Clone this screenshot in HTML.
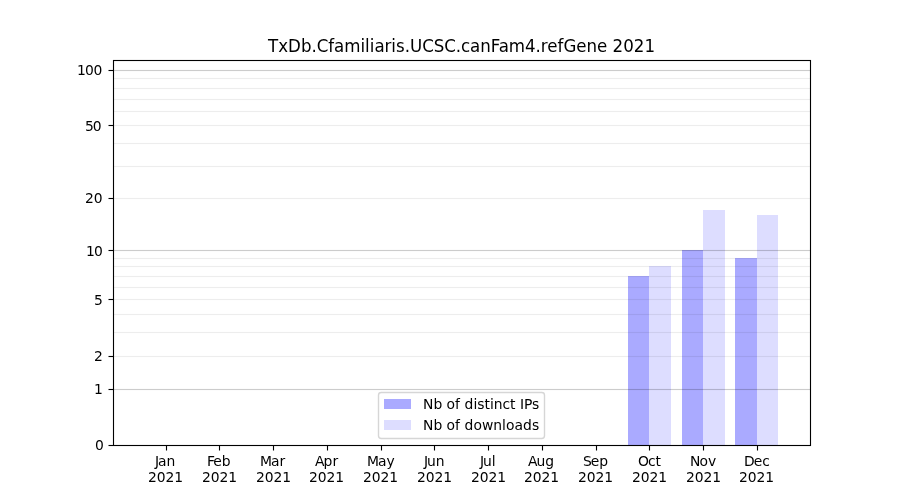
<!DOCTYPE html>
<html lang="en">
<head>
<meta charset="utf-8">
<title>TxDb.Cfamiliaris.UCSC.canFam4.refGene 2021</title>
<style>
html,body{margin:0;padding:0;background:#fff;overflow:hidden}
svg{display:block}
text{font-family:"DejaVu Sans", "Liberation Sans", sans-serif;fill:#000;white-space:pre}
.t10{font-size:13.889px}
.t12{font-size:16.667px}
</style>
</head>
<body>
<svg width="900" height="500" viewBox="0 0 900 500">
<rect x="0" y="0" width="900" height="500" fill="#fff"/>
<g shape-rendering="crispEdges">
<rect x="628" y="276" width="21" height="169" fill="#00f" fill-opacity="0.3333"/>
<rect x="649" y="266" width="22" height="179" fill="#00f" fill-opacity="0.1333"/>
<rect x="682" y="250" width="21" height="195" fill="#00f" fill-opacity="0.3333"/>
<rect x="703" y="210" width="22" height="235" fill="#00f" fill-opacity="0.1333"/>
<rect x="735" y="258" width="22" height="187" fill="#00f" fill-opacity="0.3333"/>
<rect x="757" y="215" width="21" height="230" fill="#00f" fill-opacity="0.1333"/>
</g>
<g fill="#000">
<rect x="114" y="389" width="696" height="1" fill-opacity="0.2000"/><rect x="114" y="388" width="696" height="1" fill-opacity="0.0111"/><rect x="114" y="390" width="696" height="1" fill-opacity="0.0111"/>
<rect x="114" y="356" width="696" height="1" fill-opacity="0.0700"/><rect x="114" y="355" width="696" height="1" fill-opacity="0.0039"/><rect x="114" y="357" width="696" height="1" fill-opacity="0.0039"/>
<rect x="114" y="332" width="696" height="1" fill-opacity="0.0700"/><rect x="114" y="331" width="696" height="1" fill-opacity="0.0039"/><rect x="114" y="333" width="696" height="1" fill-opacity="0.0039"/>
<rect x="114" y="314" width="696" height="1" fill-opacity="0.0700"/><rect x="114" y="313" width="696" height="1" fill-opacity="0.0039"/><rect x="114" y="315" width="696" height="1" fill-opacity="0.0039"/>
<rect x="114" y="299" width="696" height="1" fill-opacity="0.0700"/><rect x="114" y="298" width="696" height="1" fill-opacity="0.0039"/><rect x="114" y="300" width="696" height="1" fill-opacity="0.0039"/>
<rect x="114" y="287" width="696" height="1" fill-opacity="0.0700"/><rect x="114" y="286" width="696" height="1" fill-opacity="0.0039"/><rect x="114" y="288" width="696" height="1" fill-opacity="0.0039"/>
<rect x="114" y="276" width="696" height="1" fill-opacity="0.0700"/><rect x="114" y="275" width="696" height="1" fill-opacity="0.0039"/><rect x="114" y="277" width="696" height="1" fill-opacity="0.0039"/>
<rect x="114" y="266" width="696" height="1" fill-opacity="0.0700"/><rect x="114" y="265" width="696" height="1" fill-opacity="0.0039"/><rect x="114" y="267" width="696" height="1" fill-opacity="0.0039"/>
<rect x="114" y="258" width="696" height="1" fill-opacity="0.0700"/><rect x="114" y="257" width="696" height="1" fill-opacity="0.0039"/><rect x="114" y="259" width="696" height="1" fill-opacity="0.0039"/>
<rect x="114" y="250" width="696" height="1" fill-opacity="0.2000"/><rect x="114" y="249" width="696" height="1" fill-opacity="0.0111"/><rect x="114" y="251" width="696" height="1" fill-opacity="0.0111"/>
<rect x="114" y="198" width="696" height="1" fill-opacity="0.0700"/><rect x="114" y="197" width="696" height="1" fill-opacity="0.0039"/><rect x="114" y="199" width="696" height="1" fill-opacity="0.0039"/>
<rect x="114" y="166" width="696" height="1" fill-opacity="0.0700"/><rect x="114" y="165" width="696" height="1" fill-opacity="0.0039"/><rect x="114" y="167" width="696" height="1" fill-opacity="0.0039"/>
<rect x="114" y="143" width="696" height="1" fill-opacity="0.0700"/><rect x="114" y="142" width="696" height="1" fill-opacity="0.0039"/><rect x="114" y="144" width="696" height="1" fill-opacity="0.0039"/>
<rect x="114" y="125" width="696" height="1" fill-opacity="0.0700"/><rect x="114" y="124" width="696" height="1" fill-opacity="0.0039"/><rect x="114" y="126" width="696" height="1" fill-opacity="0.0039"/>
<rect x="114" y="111" width="696" height="1" fill-opacity="0.0700"/><rect x="114" y="110" width="696" height="1" fill-opacity="0.0039"/><rect x="114" y="112" width="696" height="1" fill-opacity="0.0039"/>
<rect x="114" y="99" width="696" height="1" fill-opacity="0.0700"/><rect x="114" y="98" width="696" height="1" fill-opacity="0.0039"/><rect x="114" y="100" width="696" height="1" fill-opacity="0.0039"/>
<rect x="114" y="88" width="696" height="1" fill-opacity="0.0700"/><rect x="114" y="87" width="696" height="1" fill-opacity="0.0039"/><rect x="114" y="89" width="696" height="1" fill-opacity="0.0039"/>
<rect x="114" y="78" width="696" height="1" fill-opacity="0.0700"/><rect x="114" y="77" width="696" height="1" fill-opacity="0.0039"/><rect x="114" y="79" width="696" height="1" fill-opacity="0.0039"/>
<rect x="114" y="70" width="696" height="1" fill-opacity="0.2000"/><rect x="114" y="69" width="696" height="1" fill-opacity="0.0111"/><rect x="114" y="71" width="696" height="1" fill-opacity="0.0111"/>
<rect x="166" y="446" width="1" height="4.5" fill-opacity="1.0000"/><rect x="165" y="446" width="1" height="4.5" fill-opacity="0.0555"/><rect x="167" y="446" width="1" height="4.5" fill-opacity="0.0555"/>
<rect x="219" y="446" width="1" height="4.5" fill-opacity="1.0000"/><rect x="218" y="446" width="1" height="4.5" fill-opacity="0.0555"/><rect x="220" y="446" width="1" height="4.5" fill-opacity="0.0555"/>
<rect x="273" y="446" width="1" height="4.5" fill-opacity="1.0000"/><rect x="272" y="446" width="1" height="4.5" fill-opacity="0.0555"/><rect x="274" y="446" width="1" height="4.5" fill-opacity="0.0555"/>
<rect x="327" y="446" width="1" height="4.5" fill-opacity="1.0000"/><rect x="326" y="446" width="1" height="4.5" fill-opacity="0.0555"/><rect x="328" y="446" width="1" height="4.5" fill-opacity="0.0555"/>
<rect x="381" y="446" width="1" height="4.5" fill-opacity="1.0000"/><rect x="380" y="446" width="1" height="4.5" fill-opacity="0.0555"/><rect x="382" y="446" width="1" height="4.5" fill-opacity="0.0555"/>
<rect x="434" y="446" width="1" height="4.5" fill-opacity="1.0000"/><rect x="433" y="446" width="1" height="4.5" fill-opacity="0.0555"/><rect x="435" y="446" width="1" height="4.5" fill-opacity="0.0555"/>
<rect x="488" y="446" width="1" height="4.5" fill-opacity="1.0000"/><rect x="487" y="446" width="1" height="4.5" fill-opacity="0.0555"/><rect x="489" y="446" width="1" height="4.5" fill-opacity="0.0555"/>
<rect x="542" y="446" width="1" height="4.5" fill-opacity="1.0000"/><rect x="541" y="446" width="1" height="4.5" fill-opacity="0.0555"/><rect x="543" y="446" width="1" height="4.5" fill-opacity="0.0555"/>
<rect x="596" y="446" width="1" height="4.5" fill-opacity="1.0000"/><rect x="595" y="446" width="1" height="4.5" fill-opacity="0.0555"/><rect x="597" y="446" width="1" height="4.5" fill-opacity="0.0555"/>
<rect x="649" y="446" width="1" height="4.5" fill-opacity="1.0000"/><rect x="648" y="446" width="1" height="4.5" fill-opacity="0.0555"/><rect x="650" y="446" width="1" height="4.5" fill-opacity="0.0555"/>
<rect x="703" y="446" width="1" height="4.5" fill-opacity="1.0000"/><rect x="702" y="446" width="1" height="4.5" fill-opacity="0.0555"/><rect x="704" y="446" width="1" height="4.5" fill-opacity="0.0555"/>
<rect x="757" y="446" width="1" height="4.5" fill-opacity="1.0000"/><rect x="756" y="446" width="1" height="4.5" fill-opacity="0.0555"/><rect x="758" y="446" width="1" height="4.5" fill-opacity="0.0555"/>
<rect x="108.5" y="445" width="4.5" height="1" fill-opacity="1.0000"/><rect x="108.5" y="444" width="4.5" height="1" fill-opacity="0.0555"/><rect x="108.5" y="446" width="4.5" height="1" fill-opacity="0.0555"/>
<rect x="108.5" y="389" width="4.5" height="1" fill-opacity="1.0000"/><rect x="108.5" y="388" width="4.5" height="1" fill-opacity="0.0555"/><rect x="108.5" y="390" width="4.5" height="1" fill-opacity="0.0555"/>
<rect x="108.5" y="356" width="4.5" height="1" fill-opacity="1.0000"/><rect x="108.5" y="355" width="4.5" height="1" fill-opacity="0.0555"/><rect x="108.5" y="357" width="4.5" height="1" fill-opacity="0.0555"/>
<rect x="108.5" y="299" width="4.5" height="1" fill-opacity="1.0000"/><rect x="108.5" y="298" width="4.5" height="1" fill-opacity="0.0555"/><rect x="108.5" y="300" width="4.5" height="1" fill-opacity="0.0555"/>
<rect x="108.5" y="250" width="4.5" height="1" fill-opacity="1.0000"/><rect x="108.5" y="249" width="4.5" height="1" fill-opacity="0.0555"/><rect x="108.5" y="251" width="4.5" height="1" fill-opacity="0.0555"/>
<rect x="108.5" y="198" width="4.5" height="1" fill-opacity="1.0000"/><rect x="108.5" y="197" width="4.5" height="1" fill-opacity="0.0555"/><rect x="108.5" y="199" width="4.5" height="1" fill-opacity="0.0555"/>
<rect x="108.5" y="125" width="4.5" height="1" fill-opacity="1.0000"/><rect x="108.5" y="124" width="4.5" height="1" fill-opacity="0.0555"/><rect x="108.5" y="126" width="4.5" height="1" fill-opacity="0.0555"/>
<rect x="108.5" y="70" width="4.5" height="1" fill-opacity="1.0000"/><rect x="108.5" y="69" width="4.5" height="1" fill-opacity="0.0555"/><rect x="108.5" y="71" width="4.5" height="1" fill-opacity="0.0555"/>
<rect x="113" y="60" width="698" height="1" fill-opacity="1.0000"/><rect x="113" y="59" width="698" height="1" fill-opacity="0.0555"/><rect x="113" y="61" width="698" height="1" fill-opacity="0.0555"/>
<rect x="113" y="445" width="698" height="1" fill-opacity="1.0000"/><rect x="113" y="444" width="698" height="1" fill-opacity="0.0555"/><rect x="113" y="446" width="698" height="1" fill-opacity="0.0555"/>
<rect x="113" y="60" width="1" height="386" fill-opacity="1.0000"/><rect x="112" y="60" width="1" height="386" fill-opacity="0.0555"/><rect x="114" y="60" width="1" height="386" fill-opacity="0.0555"/>
<rect x="810" y="60" width="1" height="386" fill-opacity="1.0000"/><rect x="809" y="60" width="1" height="386" fill-opacity="0.0555"/><rect x="811" y="60" width="1" height="386" fill-opacity="0.0555"/>
</g>
<g>
<text class="t10" x="155.00 158.00 166.62" y="466">Jan</text>
<text class="t10" x="148.00 156.75 165.50 174.25" y="482">2021</text>
<text class="t10" x="207.00 213.25 221.75" y="466">Feb</text>
<text class="t10" x="202.00 210.75 219.50 228.25" y="482">2021</text>
<text class="t10" x="260.00 271.00 279.62" y="466">Mar</text>
<text class="t10" x="256.00 264.75 273.50 282.25" y="482">2021</text>
<text class="t10" x="315.00 323.50 332.38" y="466">Apr</text>
<text class="t10" x="309.00 317.75 326.50 335.25" y="482">2021</text>
<text class="t10" x="367.00 378.00 386.62" y="466">May</text>
<text class="t10" x="363.00 371.75 380.50 389.25" y="482">2021</text>
<text class="t10" x="424.00 427.00 435.75" y="466">Jun</text>
<text class="t10" x="417.00 425.75 434.50 443.25" y="482">2021</text>
<text class="t10" x="480.00 483.00 491.75" y="466">Jul</text>
<text class="t10" x="471.00 479.75 488.50 497.25" y="482">2021</text>
<text class="t10" x="528.00 536.50 545.25" y="466">Aug</text>
<text class="t10" x="524.00 532.75 541.50 550.25" y="482">2021</text>
<text class="t10" x="583.00 590.75 599.25" y="466">Sep</text>
<text class="t10" x="578.00 586.75 595.50 604.25" y="482">2021</text>
<text class="t10" x="638.00 647.88 655.50" y="466">Oct</text>
<text class="t10" x="632.00 640.75 649.50 658.25" y="482">2021</text>
<text class="t10" x="690.00 699.38 707.88" y="466">Nov</text>
<text class="t10" x="686.00 694.75 703.50 712.25" y="482">2021</text>
<text class="t10" x="744.00 753.75 762.25" y="466">Dec</text>
<text class="t10" x="739.00 747.75 756.50 765.25" y="482">2021</text>
<text class="t10" x="95.00" y="450">0</text>
<text class="t10" x="94.00" y="394">1</text>
<text class="t10" x="94.00" y="361">2</text>
<text class="t10" x="94.00" y="305">5</text>
<text class="t10" x="86.00 93.88" y="256">10</text>
<text class="t10" x="85.00 93.75" y="203">20</text>
<text class="t10" x="85.00 92.75" y="131">50</text>
<text class="t10" x="77.00 84.88 93.62" y="75">100</text>
</g>
<text class="t12" x="268.00 278.25 288.12 301.00 311.50 316.75 328.25 334.12 344.25 360.50 365.12 369.75 374.38 384.50 391.38 396.00 404.75 410.00 422.25 433.75 444.25 455.75 461.00 470.12 480.25 490.75 498.75 508.88 525.12 535.62 540.88 547.38 557.62 563.50 576.38 586.62 597.12 607.38 612.62 623.25 633.75 644.38" y="0" transform="translate(0 52) scale(1 1.0833)">TxDb.Cfamiliaris.UCSC.canFam4.refGene 2021</text>
<rect x="378.5" y="392.5" width="166" height="46" rx="2.78" ry="2.78" fill="#fff" fill-opacity="0.8" stroke="#ccc" stroke-opacity="0.8" stroke-width="1.389"/>
<g shape-rendering="crispEdges"><rect x="384" y="399" width="27" height="10" fill="#00f" fill-opacity="0.3333"/><rect x="384" y="420" width="27" height="10" fill="#00f" fill-opacity="0.1333"/></g>
<text class="t10" x="423.00 433.38 442.25 446.62 455.12 460.12 464.50 473.38 477.25 484.38 489.88 493.75 502.50 510.12 515.62 520.00 524.00 532.12" y="409">Nb of distinct IPs</text>
<text class="t10" x="423.00 433.38 442.25 446.62 455.12 460.12 464.50 473.38 481.88 493.25 502.00 505.88 514.38 523.00 531.88" y="430">Nb of downloads</text>
</svg>
</body>
</html>
